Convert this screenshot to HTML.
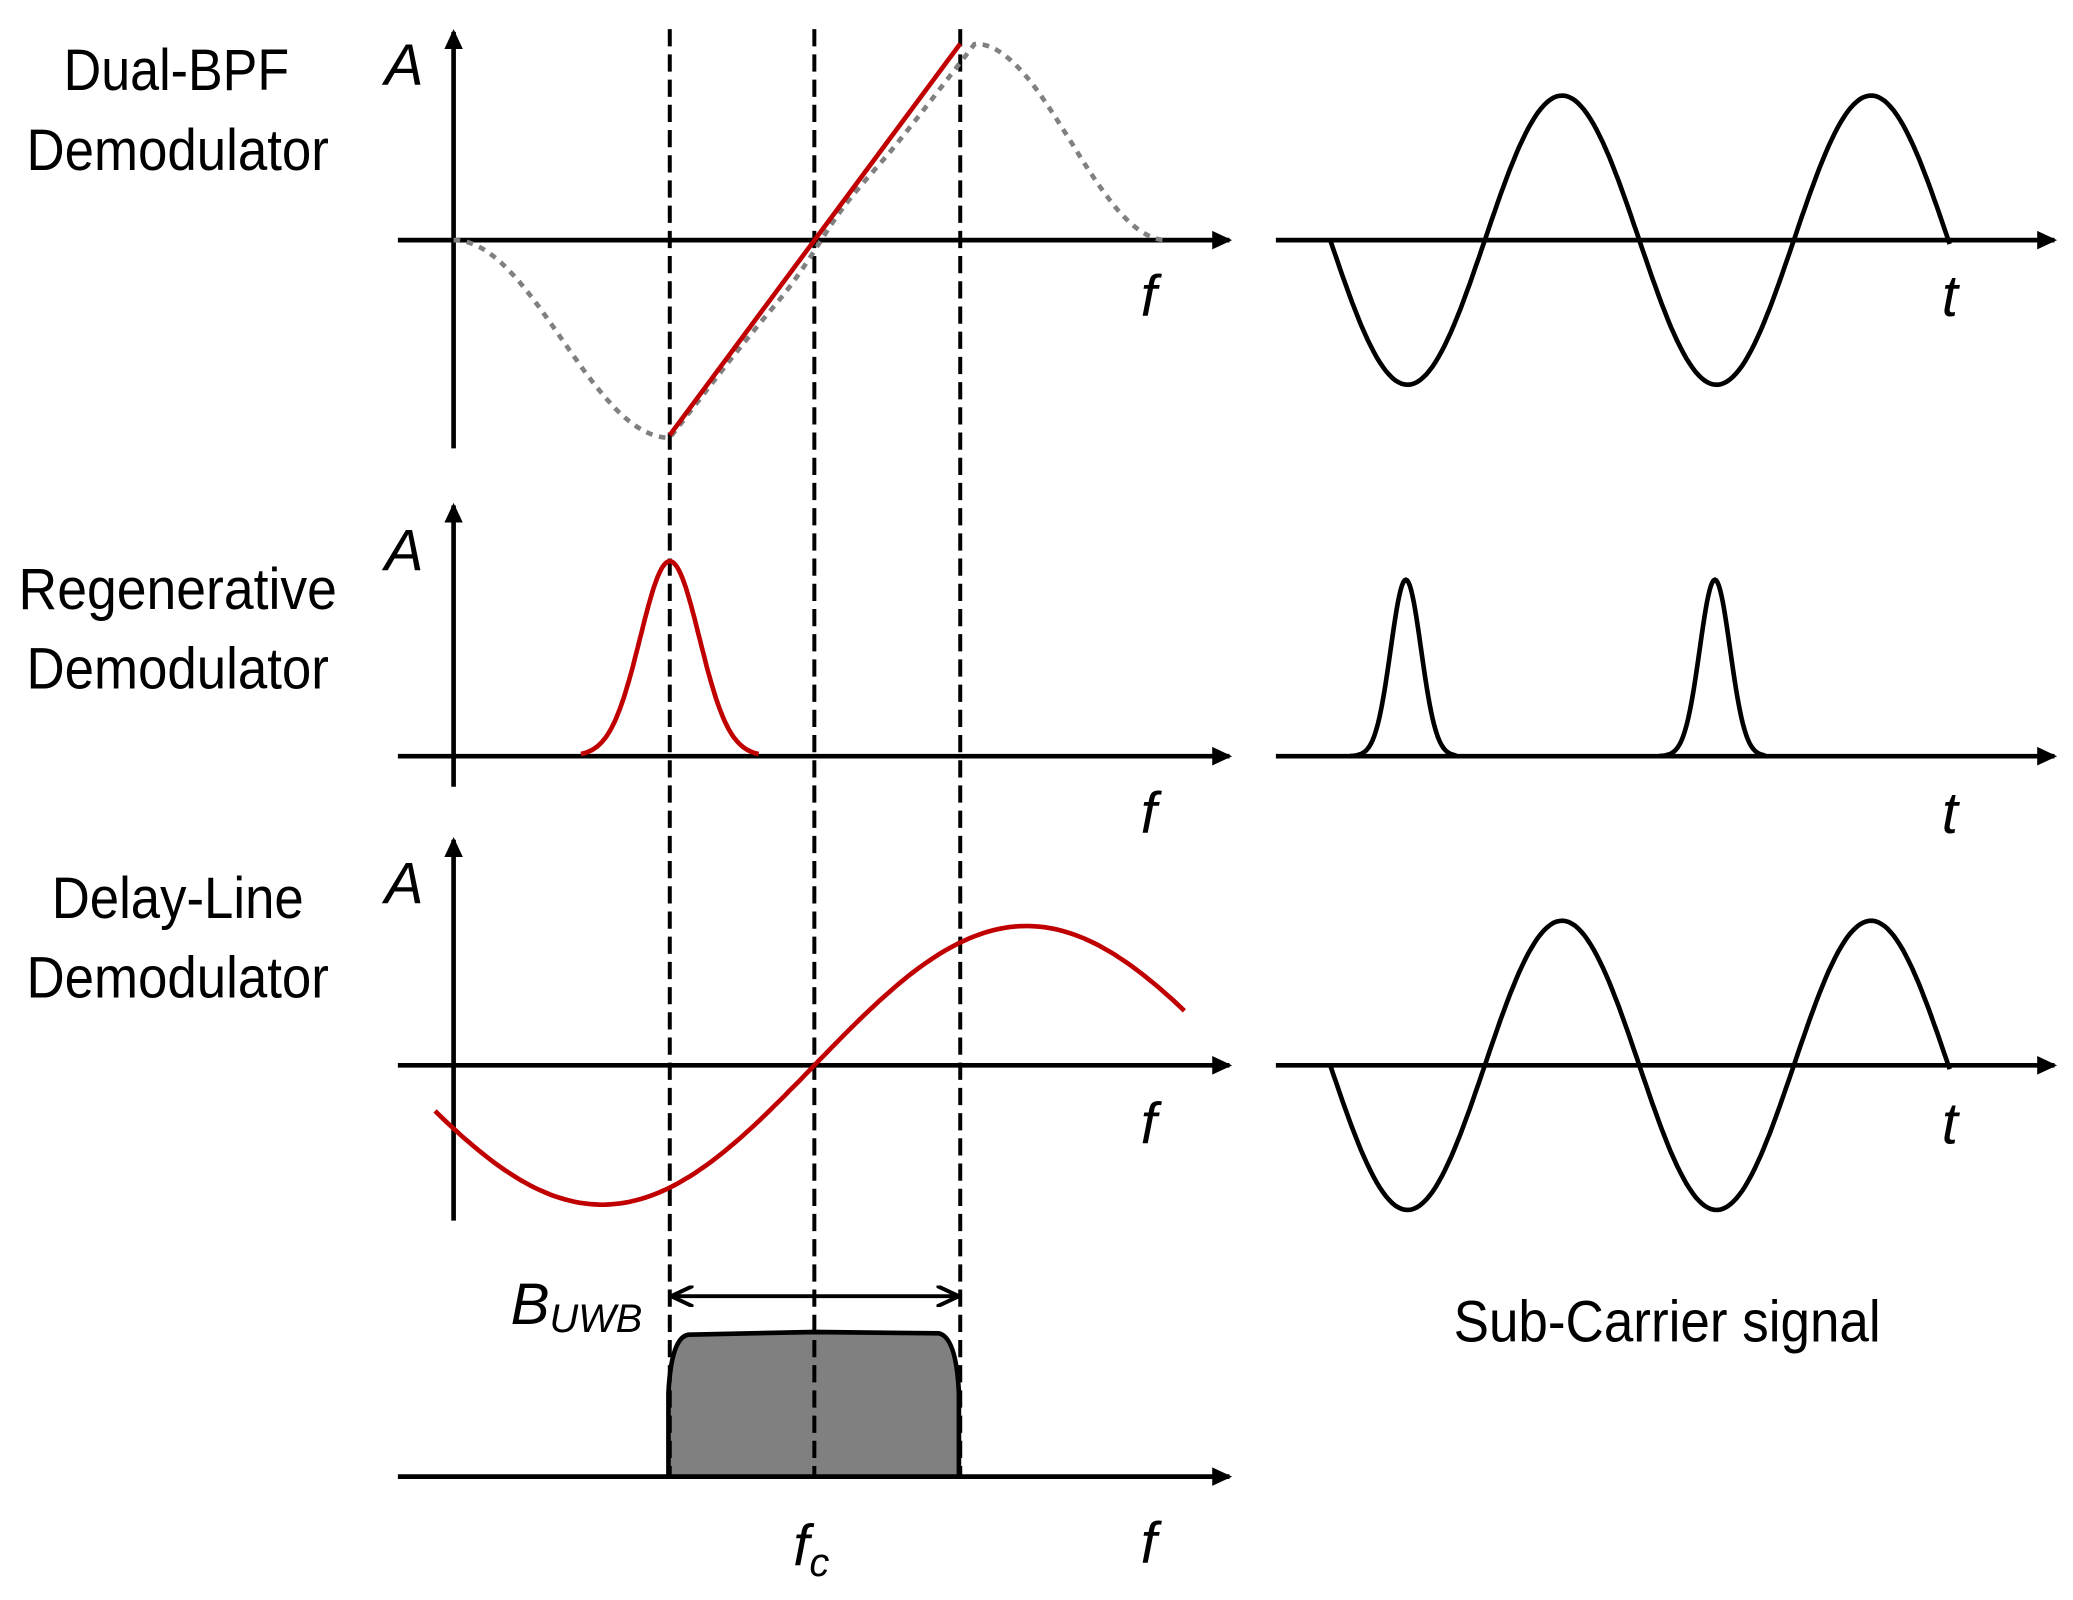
<!DOCTYPE html>
<html><head><meta charset="utf-8"><style>
html,body{margin:0;padding:0;background:#fff;}
svg{display:block;}
.lab{font-family:"Liberation Sans Narrow","Liberation Sans",sans-serif;font-size:44px;fill:#000;}
.it{font-family:"Liberation Sans","DejaVu Sans",sans-serif;font-style:italic;font-size:44px;fill:#000;}
</style></head><body>
<svg id="s" width="2073" height="1600" viewBox="0 0 1563 1206" preserveAspectRatio="none" xmlns="http://www.w3.org/2000/svg">
<defs>
<marker id="ah" markerWidth="16" markerHeight="16" refX="13" refY="8" orient="auto" markerUnits="userSpaceOnUse"><path d="M0,1 L15,8 L0,15 z" fill="#000"/></marker>
<marker id="ah2" markerWidth="18" markerHeight="16" refX="17" refY="8" orient="auto-start-reverse" markerUnits="userSpaceOnUse"><path d="M0,0 L17,8 L0,16" fill="none" stroke="#000" stroke-width="3"/></marker>
</defs>
<g stroke="#000" stroke-width="3.5" fill="none">
<line x1="342" y1="338" x2="342" y2="24" marker-end="url(#ah)"/>
<line x1="300" y1="181" x2="927" y2="181" marker-end="url(#ah)"/>
<line x1="962" y1="181" x2="1549" y2="181" marker-end="url(#ah)"/>
<line x1="342" y1="593" x2="342" y2="381" marker-end="url(#ah)"/>
<line x1="300" y1="570" x2="927" y2="570" marker-end="url(#ah)"/>
<line x1="962" y1="570" x2="1549" y2="570" marker-end="url(#ah)"/>
<line x1="342" y1="920" x2="342" y2="633" marker-end="url(#ah)"/>
<line x1="300" y1="803" x2="927" y2="803" marker-end="url(#ah)"/>
<line x1="962" y1="803" x2="1549" y2="803" marker-end="url(#ah)"/>
<line x1="300" y1="1113" x2="927" y2="1113" marker-end="url(#ah)"/>
</g>
<path d="M504,1113 L504,1050 Q506,1008 519,1006 L614,1004 L708,1005 Q721,1008 723,1050 L723,1113 Z" fill="#808080" stroke="#000" stroke-width="3.5"/>
<g stroke="#000" stroke-width="3" stroke-dasharray="13,6">
<line x1="505" y1="22" x2="505" y2="1113"/>
<line x1="614" y1="22" x2="614" y2="1113"/>
<line x1="724" y1="22" x2="724" y2="1113"/>
</g>
<line x1="506" y1="977" x2="723" y2="977" stroke="#000" stroke-width="3" marker-start="url(#ah2)" marker-end="url(#ah2)"/>
<path id="gray" fill="none" stroke="#808080" stroke-width="3.5" stroke-dasharray="5,5"/>
<line x1="505" y1="328" x2="724" y2="33" stroke="#c00000" stroke-width="3.5"/>
<path id="r2" fill="none" stroke="#c00000" stroke-width="3.5"/>
<path id="r3" fill="none" stroke="#c00000" stroke-width="3.5"/>
<path id="s1" fill="none" stroke="#000" stroke-width="3.5"/>
<path id="s2" fill="none" stroke="#000" stroke-width="3.5"/>
<path id="s3" fill="none" stroke="#000" stroke-width="3.5"/>
<text class="lab" x="48" y="68" textLength="170" lengthAdjust="spacingAndGlyphs">Dual-BPF</text>
<text class="lab" x="20" y="128" textLength="228" lengthAdjust="spacingAndGlyphs">Demodulator</text>
<text class="lab" x="14" y="459" textLength="240" lengthAdjust="spacingAndGlyphs">Regenerative</text>
<text class="lab" x="20" y="519" textLength="228" lengthAdjust="spacingAndGlyphs">Demodulator</text>
<text class="lab" x="39" y="692" textLength="190" lengthAdjust="spacingAndGlyphs">Delay-Line</text>
<text class="lab" x="20" y="752" textLength="228" lengthAdjust="spacingAndGlyphs">Demodulator</text>
<text class="lab" x="1096" y="1011" textLength="322" lengthAdjust="spacingAndGlyphs">Sub-Carrier signal</text>
<text class="it" x="290" y="64">A</text>
<text class="it" x="290" y="430">A</text>
<text class="it" x="290" y="681">A</text>
<text class="it" x="860" y="238">f</text>
<text class="it" x="860" y="628">f</text>
<text class="it" x="860" y="862">f</text>
<text class="it" x="860" y="1178">f</text>
<text class="it" x="1464" y="238">t</text>
<text class="it" x="1464" y="628">t</text>
<text class="it" x="1464" y="862">t</text>
<text class="it" x="385" y="998">B<tspan font-size="30" dy="6">UWB</tspan></text>
<text class="it" x="598" y="1180">f<tspan font-size="30" dy="8">c</tspan></text>
</svg>
<script>
function P(f,a,b,n){var s="";for(var i=0;i<=n;i++){var x=a+(b-a)*i/n;s+=(i?"L":"M")+x.toFixed(1)+","+f(x).toFixed(1);}return s;}
function sine(y0){return P(function(x){return y0+109*Math.sin(2*Math.PI*(x-1003)/233);},1003,1470,200);}
document.getElementById("s1").setAttribute("d",sine(181));
document.getElementById("s3").setAttribute("d",sine(803));
var d2="";[1060,1293].forEach(function(c){d2+=P(function(x){var d=x-c;return 570-133*Math.exp(-Math.pow(d/17,2)*1.1);},c-42,c+38,80);});
document.getElementById("s2").setAttribute("d",d2);
document.getElementById("r2").setAttribute("d",P(function(x){var d=x-505;return 570-147*Math.exp(-Math.pow(d/30,2)*0.9);},438,572,100));
document.getElementById("r3").setAttribute("d",P(function(x){return 803-105*Math.sin(Math.PI*(x-614)/320);},328,893,150));
document.getElementById("gray").setAttribute("d",P(function(x){
 if(x<505){var t=(x-342)/163;return 181+149*(1-Math.cos(Math.PI*t))/2;}
 if(x<735){var t=(x-505)/230;return 330-297*t - 10*Math.sin(Math.PI*2*(t-0.47))*Math.exp(-Math.pow((t-0.5)/0.15,2));}
 var t=(x-735)/145;return 33+148*(1-Math.cos(Math.PI*t))/2;},342,880,300));
</script>
</body></html>
